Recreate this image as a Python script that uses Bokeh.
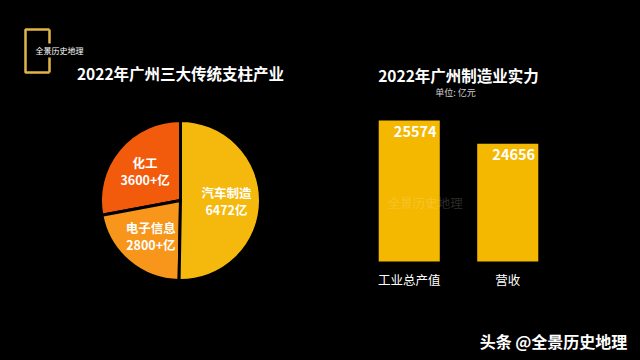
import numpy as np
from bokeh.plotting import figure
from bokeh.layouts import row, column
from bokeh.models import Range1d, FactorRange
from bokeh.core.properties import value
from bokeh.embed import file_html
from bokeh.resources import INLINE

# ---------------- data ----------------
pie_title = "2022年广州三大传统支柱产业"
pie_names = ["化工", "电子信息", "汽车制造"]
pie_values = [3600, 2800, 6472]
pie_value_labels = ["3600+亿", "2800+亿", "6472亿"]
pie_colors = ["#F25A0C", "#F7961A", "#F5B80C"]

bar_title = "2022年广州制造业实力"
bar_unit = "单位: 亿元"
bar_cats = ["工业总产值", "营收"]
bar_values = [25574, 24656]
bar_base = 20000
bar_color = "#F4B800"

FONT = value("Noto Sans CJK SC")
common = dict(toolbar_location=None, output_backend="svg", min_border=0,
              x_axis_location=None, y_axis_location=None,
              background_fill_color="black", border_fill_color="black",
              outline_line_color=None)
tkw = dict(text_font=FONT, text_align="center", text_baseline="middle")

# ---------------- left panel (pie) ----------------
LW, H = 284, 360
left = figure(width=LW, height=H, x_range=Range1d(0, LW), y_range=Range1d(-H, 0), **common)
left.grid.grid_line_color = None

gold = "#E2B44A"
left.multi_line(xs=[[49, 25, 25, 49], [49, 49], [49, 49]],
                ys=[[-29, -29, -72, -72], [-29, -43], [-57, -72]],
                line_color=gold, line_width=2.5)
left.text(x=[59], y=[-50], text=["全景历史地理"], text_font_size="8px",
          text_color="white", **tkw)
left.text(x=[180], y=[-72], text=[pie_title], text_font_size="15.5px",
          text_font_style="bold", text_color="white", **tkw)

cx, cy, rad = 180, -200, 80
vals = np.array(pie_values, dtype=float)
frac = vals / vals.sum()
ends = np.pi / 2 + 2 * np.pi * np.cumsum(frac)
starts = ends - 2 * np.pi * frac
mids = (starts + ends) / 2
left.wedge(x=cx, y=cy, radius=rad, start_angle=list(starts), end_angle=list(ends),
           fill_color=pie_colors, line_color="black", line_width=3)

lx = cx + 46 * np.cos(mids)
ly = cy + 46 * np.sin(mids)
left.text(x=list(lx), y=list(ly + 8.5), text=pie_names, text_font_size="12.5px",
          text_font_style="bold", text_color="white", **tkw)
left.text(x=list(lx), y=list(ly - 8.5), text=pie_value_labels, text_font_size="12.5px",
          text_font_style="bold", text_color="white", **tkw)

# ---------------- right column ----------------
RW = 348
TOP_H, BAR_H = 100, 190
BOT_H = H - TOP_H - BAR_H

# titles
top = figure(width=RW, height=TOP_H, x_range=Range1d(LW, LW + RW), y_range=Range1d(-TOP_H, 0),
             **common)
top.grid.grid_line_color = None
top.text(x=[458], y=[-74], text=[bar_title], text_font_size="15.5px",
         text_font_style="bold", text_color="white", **tkw)
top.text(x=[455], y=[-92], text=[bar_unit], text_font_size="9px",
         text_color="#D0D0D0", **tkw)

# bars
px_per_val = 141 / 5574.0           # vertical scale of the bars (pixels per 亿元)
base_px = 261 - TOP_H               # pixel row of the bar baseline inside this panel
bars = figure(width=RW, height=BAR_H,
              x_range=FactorRange(*bar_cats, range_padding=(RW / 98.5 - 2) / 2,
                                  range_padding_units="absolute"),
              y_range=Range1d(bar_base - (BAR_H - base_px) / px_per_val,
                              bar_base + base_px / px_per_val),
              **common)
bars.grid.grid_line_color = None
bars.vbar(x=bar_cats, top=bar_values, bottom=bar_base, width=0.62,
          fill_color=bar_color, line_color=None)
bars.text(x=bar_cats, y=bar_values, text=[str(v) for v in bar_values], x_offset=6, y_offset=11,
          text_font_size="14.5px", text_font_style="bold", text_color="white", **tkw)
bars.text(x=bar_cats, y=[bar_base] * len(bar_cats), text=bar_cats, y_offset=18,
          text_font_size="12.5px", text_color="white", **tkw)
bars.text(x=[bar_cats[0]], y=[bar_base], text=["全景历史地理"], x_offset=16, y_offset=-59,
          text_font_size="12.5px", text_color="white", text_alpha=0.18, **tkw)

# bottom watermark
bot = figure(width=RW, height=BOT_H, x_range=Range1d(LW, LW + RW),
             y_range=Range1d(-H, -(TOP_H + BAR_H)), **common)
bot.grid.grid_line_color = None
bot.text(x=[553], y=[-340], text=["头条 @全景历史地理"], text_font_size="16px",
         text_font_style="bold", text_color="white", **tkw)

layout = row(left, column(top, bars, bot))
html = file_html(layout, INLINE)
html = html.replace("<head>", "<head><style>html,body{background:#000000;}</style>", 1)
open("out.html", "w").write(html)
